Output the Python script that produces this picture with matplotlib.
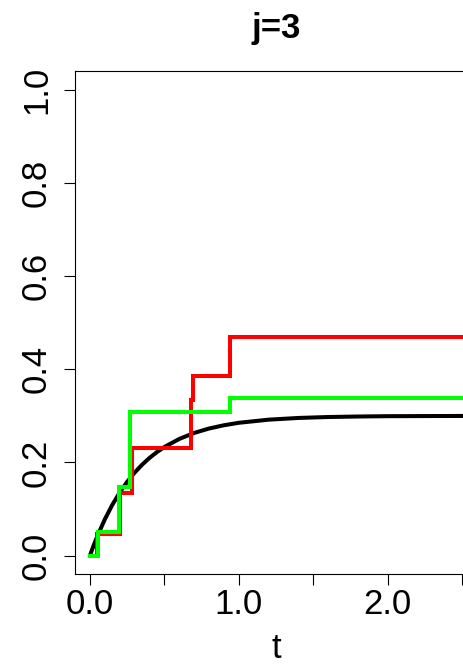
import matplotlib
matplotlib.use('Agg')
import matplotlib.pyplot as plt

plt.rcParams['font.family'] = ['Liberation Sans', 'DejaVu Sans']

# true cumulative incidence curve
true_t = [0.0, 0.025, 0.05, 0.1, 0.15, 0.2, 0.25, 0.3, 0.35, 0.4, 0.45, 0.5,
          0.6, 0.7, 0.8, 0.9, 1.0, 1.2, 1.4, 1.6, 1.8, 2.0, 2.5, 3.0]
true_cif = [0.0, 0.0217, 0.0418, 0.0778, 0.1087, 0.1354, 0.1583, 0.1780, 0.1950,
            0.2096, 0.2222, 0.2331, 0.2504, 0.2633, 0.2728, 0.2798, 0.2851,
            0.2918, 0.2955, 0.2975, 0.2986, 0.2993, 0.2998, 0.3000]

# red step estimate
red_t = [0.0, 0.05, 0.2, 0.284, 0.677, 0.694, 0.941, 3.0]
red_cif = [0.0, 0.046, 0.134, 0.232, 0.334, 0.386, 0.469, 0.469]

# green step estimate
green_t = [0.0, 0.052, 0.197, 0.269, 0.941, 3.0]
green_cif = [0.0, 0.050, 0.148, 0.309, 0.338, 0.338]

x_ticks = [0.0, 0.5, 1.0, 1.5, 2.0, 2.5]
x_tick_labels = ['0.0', '', '1.0', '', '2.0', '']
y_ticks = [0.0, 0.2, 0.4, 0.6, 0.8, 1.0]
y_tick_labels = ['0.0', '0.2', '0.4', '0.6', '0.8', '1.0']

W, H = 463, 664
fig = plt.figure(figsize=(W / 100, H / 100), dpi=100)
left, right, top, bottom = 75, 477, 71, 574.3
ax = fig.add_axes([left / W, (H - bottom) / H, (right - left) / W, (bottom - top) / H])

lw = 2.9
ax.plot(true_t, true_cif, color='black', lw=lw, solid_capstyle='round')
ax.step(red_t, red_cif, where='post', color='#FF0000', lw=lw,
        solid_joinstyle='miter')
ax.step(green_t, green_cif, where='post', color='#00FF00', lw=lw,
        solid_joinstyle='miter')

ax.set_xlim(-0.1, 2.6)
ax.set_ylim(-0.04, 1.04)
ax.set_xticks(x_ticks)
ax.set_xticklabels(x_tick_labels)
ax.set_yticks(y_ticks)
ax.set_yticklabels(y_tick_labels, rotation=90, va='center')

for s in ax.spines.values():
    s.set_linewidth(0.8)
ax.tick_params(direction='out', length=7.9, width=0.8, labelsize=25, colors='black')
ax.tick_params(axis='x', pad=2)
ax.tick_params(axis='y', pad=8)

ax.set_xlabel('t', fontsize=25, labelpad=8)
ax.set_title('j=3', fontsize=25, fontweight='bold', pad=24)

fig.savefig('out.png', dpi=100)
